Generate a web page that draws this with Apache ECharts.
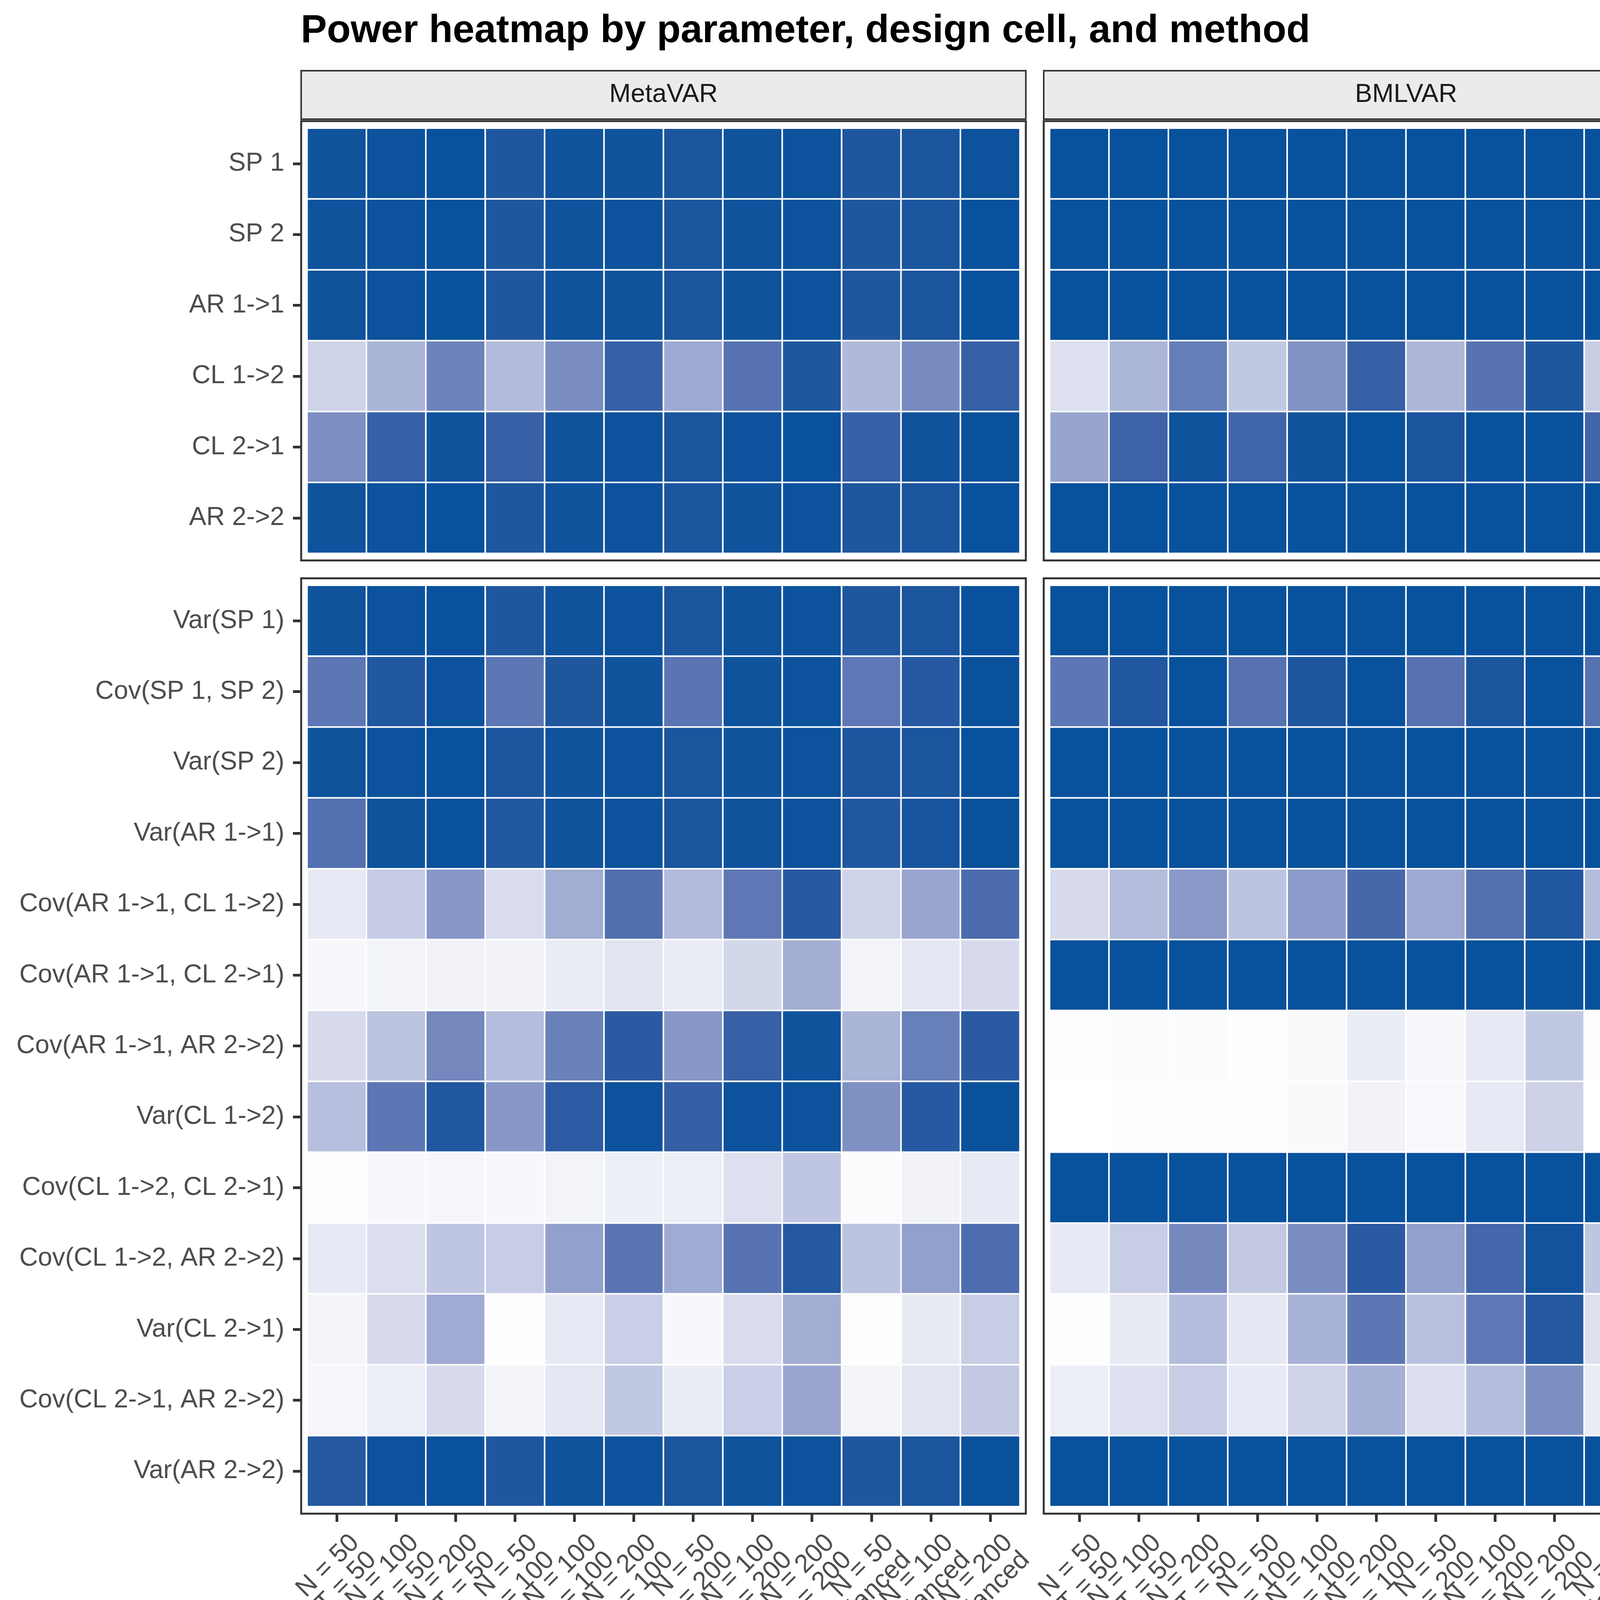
<!DOCTYPE html>
<html>
<head>
<meta charset="utf-8">
<script src="https://cdn.jsdelivr.net/npm/echarts@6/dist/echarts.min.js"></script>
<style>html,body{margin:0;padding:0;background:#fff}#c{width:6600px;height:4800px}</style>
</head>
<body>
<div id="c"></div>
<script>
// ---------------- DATA ----------------
const chartTitle = "Power heatmap by parameter, design cell, and method";
const methods = ["MetaVAR", "BMLVAR", "Uncorr"];
const effectTypes = ["Fixed effects", "Random effects"];
const designCells = [
  "N = 50\nT = 50", "N = 100\nT = 50", "N = 200\nT = 50",
  "N = 50\nT = 100", "N = 100\nT = 100", "N = 200\nT = 100",
  "N = 50\nT = 200", "N = 100\nT = 200", "N = 200\nT = 200",
  "N = 50\nT = Unbalanced", "N = 100\nT = Unbalanced", "N = 200\nT = Unbalanced"
];
const fixedParams = ["SP 1", "SP 2", "AR 1->1", "CL 1->2", "CL 2->1", "AR 2->2"];
const randomParams = [
  "Var(SP 1)", "Cov(SP 1, SP 2)", "Var(SP 2)", "Var(AR 1->1)",
  "Cov(AR 1->1, CL 1->2)", "Cov(AR 1->1, CL 2->1)", "Cov(AR 1->1, AR 2->2)",
  "Var(CL 1->2)", "Cov(CL 1->2, CL 2->1)", "Cov(CL 1->2, AR 2->2)",
  "Var(CL 2->1)", "Cov(CL 2->1, AR 2->2)", "Var(AR 2->2)"
];
const legendTitle = "power";
const legendTicks = [0.25, 0.50, 0.75, 1.00];
const legendTickLabels = ["0.25", "0.50", "0.75", "1.00"];
const powerMin = 0.0075, powerMax = 1.0;

// power values, rows = parameters (top to bottom), columns = design cells
const metaVarFixed = [
  [0.99, 0.995, 1.00, 0.965, 0.99, 0.99, 0.975, 0.99, 0.995, 0.965, 0.975, 0.995],
  [0.99, 0.995, 1.00, 0.965, 0.99, 0.995, 0.975, 0.99, 0.995, 0.965, 0.975, 1.00],
  [0.99, 0.995, 1.00, 0.965, 0.99, 0.99, 0.975, 0.99, 0.995, 0.965, 0.975, 1.00],
  [0.24, 0.41, 0.69, 0.37, 0.63, 0.90, 0.47, 0.79, 0.965, 0.38, 0.64, 0.90],
  [0.62, 0.90, 0.99, 0.90, 0.99, 0.995, 0.975, 0.995, 0.998, 0.90, 0.99, 0.997],
  [0.99, 0.995, 1.00, 0.965, 0.99, 0.995, 0.975, 0.99, 0.995, 0.965, 0.975, 1.00]
];
const metaVarRandom = [
  [0.99, 0.995, 1.00, 0.965, 0.99, 0.995, 0.975, 0.99, 0.995, 0.965, 0.975, 0.998],
  [0.76, 0.96, 0.995, 0.76, 0.965, 0.99, 0.77, 0.99, 0.995, 0.75, 0.95, 0.997],
  [0.99, 0.995, 1.00, 0.97, 0.99, 0.995, 0.975, 0.99, 0.995, 0.97, 0.975, 1.00],
  [0.80, 0.99, 0.997, 0.96, 0.99, 0.995, 0.975, 0.99, 0.995, 0.96, 0.98, 0.997],
  [0.12, 0.28, 0.57, 0.19, 0.45, 0.81, 0.37, 0.75, 0.95, 0.24, 0.49, 0.83],
  [0.04, 0.065, 0.07, 0.07, 0.10, 0.15, 0.11, 0.22, 0.44, 0.065, 0.13, 0.20],
  [0.20, 0.32, 0.66, 0.36, 0.70, 0.94, 0.57, 0.90, 0.99, 0.41, 0.71, 0.94],
  [0.35, 0.76, 0.96, 0.57, 0.93, 0.995, 0.91, 0.995, 0.995, 0.61, 0.95, 0.997],
  [0.015, 0.04, 0.045, 0.04, 0.065, 0.09, 0.09, 0.17, 0.31, 0.02, 0.07, 0.12],
  [0.12, 0.18, 0.31, 0.27, 0.52, 0.77, 0.46, 0.78, 0.955, 0.32, 0.52, 0.82],
  [0.06, 0.20, 0.46, 0.015, 0.12, 0.26, 0.04, 0.19, 0.45, 0.015, 0.115, 0.27],
  [0.045, 0.09, 0.20, 0.06, 0.13, 0.30, 0.10, 0.26, 0.49, 0.065, 0.15, 0.29],
  [0.955, 0.995, 0.997, 0.965, 0.99, 0.993, 0.975, 0.99, 0.995, 0.965, 0.975, 0.997]
];
const bmlvarFixed = [
  [1.00, 1.00, 1.00, 1.00, 1.00, 1.00, 1.00, 1.00, 1.00, 1.00, 1.00, 1.00],
  [1.00, 1.00, 1.00, 1.00, 1.00, 1.00, 1.00, 1.00, 1.00, 1.00, 1.00, 1.00],
  [1.00, 1.00, 1.00, 1.00, 1.00, 1.00, 1.00, 1.00, 1.00, 1.00, 1.00, 1.00],
  [0.17, 0.40, 0.72, 0.30, 0.60, 0.90, 0.39, 0.78, 0.965, 0.27, 0.60, 0.90],
  [0.50, 0.88, 0.99, 0.87, 0.99, 1.00, 0.975, 1.00, 1.00, 0.87, 0.998, 1.00],
  [1.00, 1.00, 1.00, 1.00, 1.00, 1.00, 1.00, 1.00, 1.00, 1.00, 1.00, 1.00]
];
const bmlvarRandom = [
  [1.00, 1.00, 1.00, 1.00, 1.00, 1.00, 1.00, 1.00, 1.00, 1.00, 1.00, 1.00],
  [0.76, 0.96, 1.00, 0.79, 0.97, 1.00, 0.79, 0.975, 1.00, 0.79, 0.965, 1.00],
  [1.00, 1.00, 1.00, 1.00, 1.00, 1.00, 1.00, 1.00, 1.00, 1.00, 1.00, 1.00],
  [1.00, 1.00, 1.00, 1.00, 1.00, 1.00, 1.00, 1.00, 1.00, 1.00, 1.00, 1.00],
  [0.20, 0.36, 0.56, 0.32, 0.55, 0.85, 0.47, 0.80, 0.96, 0.36, 0.60, 0.85],
  [1.00, 1.00, 1.00, 1.00, 1.00, 1.00, 1.00, 1.00, 1.00, 1.00, 1.00, 1.00],
  [0.012, 0.02, 0.022, 0.01, 0.03, 0.10, 0.04, 0.12, 0.30, 0.012, 0.055, 0.13],
  [0.008, 0.01, 0.018, 0.012, 0.03, 0.07, 0.035, 0.12, 0.245, 0.008, 0.035, 0.10],
  [1.00, 1.00, 1.00, 1.00, 1.00, 1.00, 1.00, 1.00, 1.00, 1.00, 1.00, 1.00],
  [0.12, 0.27, 0.65, 0.29, 0.63, 0.94, 0.52, 0.86, 0.985, 0.31, 0.69, 0.94],
  [0.012, 0.115, 0.36, 0.13, 0.42, 0.76, 0.34, 0.75, 0.955, 0.17, 0.42, 0.79],
  [0.09, 0.17, 0.27, 0.12, 0.24, 0.43, 0.18, 0.36, 0.62, 0.11, 0.245, 0.41],
  [1.00, 1.00, 1.00, 1.00, 1.00, 1.00, 1.00, 1.00, 1.00, 1.00, 1.00, 1.00]
];
const uncorrFixed = [
  [1.00, 1.00, 1.00, 1.00, 1.00, 1.00, 1.00, 1.00, 1.00, 1.00, 1.00, 1.00],
  [1.00, 1.00, 1.00, 1.00, 1.00, 1.00, 1.00, 1.00, 1.00, 1.00, 1.00, 1.00],
  [1.00, 1.00, 1.00, 1.00, 1.00, 1.00, 1.00, 1.00, 1.00, 1.00, 1.00, 1.00],
  [0.22, 0.41, 0.66, 0.37, 0.61, 0.89, 0.48, 0.79, 0.96, 0.32, 0.55, 0.82],
  [0.60, 0.90, 0.99, 0.92, 1.00, 1.00, 0.985, 1.00, 1.00, 0.83, 0.99, 1.00],
  [1.00, 1.00, 1.00, 1.00, 1.00, 1.00, 1.00, 1.00, 1.00, 1.00, 1.00, 1.00]
];
const uncorrRandom = [
  [1.00, 1.00, 1.00, 1.00, 1.00, 1.00, 1.00, 1.00, 1.00, 1.00, 1.00, 1.00],
  [0.79, 0.975, 1.00, 0.80, 0.975, 1.00, 0.79, 0.975, 1.00, 0.79, 0.97, 1.00],
  [1.00, 1.00, 1.00, 1.00, 1.00, 1.00, 1.00, 1.00, 1.00, 1.00, 1.00, 1.00],
  [1.00, 1.00, 1.00, 1.00, 1.00, 1.00, 1.00, 1.00, 1.00, 1.00, 1.00, 1.00],
  [0.83, 0.975, 1.00, 0.80, 0.975, 1.00, 0.78, 0.978, 1.00, 0.78, 0.975, 1.00],
  [0.41, 0.74, 0.95, 0.17, 0.32, 0.58, 0.04, 0.065, 0.11, 0.24, 0.42, 0.74],
  [0.06, 0.08, 0.11, 0.21, 0.43, 0.74, 0.45, 0.79, 0.97, 0.18, 0.33, 0.58],
  [1.00, 1.00, 1.00, 1.00, 1.00, 1.00, 1.00, 1.00, 1.00, 1.00, 1.00, 1.00],
  [0.17, 0.32, 0.57, 0.06, 0.11, 0.20, 0.04, 0.025, 0.04, 0.12, 0.20, 0.35],
  [0.11, 0.18, 0.35, 0.03, 0.04, 0.065, 0.18, 0.37, 0.61, 0.06, 0.06, 0.065],
  [1.00, 1.00, 1.00, 1.00, 1.00, 1.00, 1.00, 1.00, 1.00, 1.00, 1.00, 1.00],
  [0.61, 0.89, 0.995, 0.52, 0.85, 0.99, 0.49, 0.82, 0.975, 0.53, 0.85, 0.98],
  [1.00, 1.00, 1.00, 1.00, 1.00, 1.00, 1.00, 1.00, 1.00, 1.00, 1.00, 1.00]
];

// ---------------- COLOUR SCALE (white -> #08519C interpolated in Lab) ----------------
const lowColor = "#FFFFFF", highColor = "#08519C";
function hexToRgb(h) { h = h.replace('#', ''); return [0, 2, 4].map(i => parseInt(h.substr(i, 2), 16)); }
function s2l(c) { c /= 255; return c <= 0.04045 ? c / 12.92 : Math.pow((c + 0.055) / 1.055, 2.4); }
function l2s(c) { c = c <= 0.0031308 ? 12.92 * c : 1.055 * Math.pow(c, 1 / 2.4) - 0.055; return Math.round(Math.max(0, Math.min(1, c)) * 255); }
const Xn = 0.95047, Yn = 1.0, Zn = 1.08883;
function rgbToLab(rgb) {
  const R = s2l(rgb[0]), G = s2l(rgb[1]), B = s2l(rgb[2]);
  const X = 0.4124564 * R + 0.3575761 * G + 0.1804375 * B;
  const Y = 0.2126729 * R + 0.7151522 * G + 0.0721750 * B;
  const Z = 0.0193339 * R + 0.1191920 * G + 0.9503041 * B;
  const f = t => t > 0.008856 ? Math.cbrt(t) : (7.787 * t + 16 / 116);
  const fx = f(X / Xn), fy = f(Y / Yn), fz = f(Z / Zn);
  return [116 * fy - 16, 500 * (fx - fy), 200 * (fy - fz)];
}
function labToHex(lab) {
  const fy = (lab[0] + 16) / 116, fx = fy + lab[1] / 500, fz = fy - lab[2] / 200;
  const fi = t => (t * t * t > 0.008856) ? t * t * t : (t - 16 / 116) / 7.787;
  const X = Xn * fi(fx), Y = Yn * fi(fy), Z = Zn * fi(fz);
  const R = 3.2404542 * X - 1.5371385 * Y - 0.4985314 * Z;
  const G = -0.9692660 * X + 1.8760108 * Y + 0.0415560 * Z;
  const B = 0.0556434 * X - 0.2040259 * Y + 1.0572252 * Z;
  return '#' + [l2s(R), l2s(G), l2s(B)].map(v => v.toString(16).padStart(2, '0')).join('');
}
const labLow = rgbToLab(hexToRgb(lowColor)), labHigh = rgbToLab(hexToRgb(highColor));
function scaleColor(t) { return labToHex(labLow.map((v, i) => v + (labHigh[i] - v) * t)); }
const NSTOP = 40;
const rampColors = [];
for (let i = 0; i <= NSTOP; i++) rampColors.push(scaleColor(i / NSTOP));

// ---------------- LAYOUT ----------------
const FONT = '"Liberation Sans", Arial, Helvetica, sans-serif';
const unitW = 152.06, unitH = 181.4, gapPx = 45.8;
const plotLeft = 771, plotTop = 310;
const panelW = 12.2 * unitW;
const panelRowsN = [fixedParams.length, randomParams.length];
const panelH = panelRowsN.map(n => (n + 0.2) * unitH);
const panelTops = [plotTop, plotTop + panelH[0] + gapPx];
const panelLefts = [0, 1, 2].map(i => plotLeft + i * (panelW + gapPx));

const panelData = [[metaVarFixed, bmlvarFixed, uncorrFixed], [metaVarRandom, bmlvarRandom, uncorrRandom]];
const rowCats = [fixedParams, randomParams];

const grids = [], xAxes = [], yAxes = [], series = [];
for (let r = 0; r < 2; r++) {
  for (let c = 0; c < 3; c++) {
    const idx = r * 3 + c;
    grids.push({
      left: panelLefts[c] + 0.1 * unitW, top: panelTops[r] + 0.1 * unitH,
      width: 12 * unitW, height: panelRowsN[r] * unitH,
      containLabel: false, outerBoundsMode: 'none'
    });
    xAxes.push({
      type: 'category', gridIndex: idx, data: designCells, position: 'bottom',
      offset: 0.1 * unitH,
      axisLine: { show: false },
      axisTick: { show: r === 1, alignWithLabel: true, interval: 0, length: 21, lineStyle: { color: '#333333', width: 7 } },
      axisLabel: {
        show: r === 1, interval: 0, rotate: 45, align: 'right', verticalAlign: 'top',
        padding: [35, 0, 0, 0], margin: 18, lineHeight: 62,
        fontSize: 66, fontFamily: FONT, color: '#4D4D4D'
      },
      splitLine: { show: false }
    });
    yAxes.push({
      type: 'category', gridIndex: idx, data: rowCats[r], inverse: true, position: 'left',
      offset: 0.1 * unitW,
      axisLine: { show: false },
      axisTick: { show: c === 0, alignWithLabel: true, interval: 0, length: 21, lineStyle: { color: '#333333', width: 7 } },
      axisLabel: { show: c === 0, interval: 0, margin: 43, fontSize: 66, fontFamily: FONT, color: '#4D4D4D' },
      splitLine: { show: false }
    });
    const mat = panelData[r][c];
    const d = [];
    for (let i = 0; i < mat.length; i++) for (let j = 0; j < mat[i].length; j++) d.push([j, i, mat[i][j]]);
    series.push({
      type: 'heatmap', name: methods[c] + ' ' + effectTypes[r], xAxisIndex: idx, yAxisIndex: idx, data: d,
      itemStyle: { borderColor: '#FFFFFF', borderWidth: 4 },
      emphasis: { disabled: true }, progressive: 0, animation: false
    });
  }
}

// ---------------- GRAPHIC: strips, borders, title, legend ----------------
const gfx = [];
gfx.push({
  type: 'text', x: 770, y: 80, z: 20,
  style: { text: chartTitle, fill: '#000000', fontSize: 100, fontWeight: 'bold', fontFamily: FONT, align: 'left', verticalAlign: 'middle' }
});
for (let c = 0; c < 3; c++) {
  gfx.push({
    type: 'rect', z: 10, shape: { x: panelLefts[c], y: 181, width: panelW, height: 124 },
    style: { fill: '#EBEBEB', stroke: '#333333', lineWidth: 4 }
  });
  gfx.push({
    type: 'text', z: 11, x: panelLefts[c] + panelW / 2, y: 243,
    style: { text: methods[c], fill: '#1A1A1A', fontSize: 66, fontFamily: FONT, align: 'center', verticalAlign: 'middle' }
  });
}
for (let r = 0; r < 2; r++) {
  for (let c = 0; c < 3; c++) {
    gfx.push({
      type: 'rect', z: 10, shape: { x: panelLefts[c], y: panelTops[r], width: panelW, height: panelH[r] },
      style: { fill: 'none', stroke: '#333333', lineWidth: 5 }
    });
  }
  const sx = panelLefts[2] + panelW + 3;
  gfx.push({
    type: 'rect', z: 10, shape: { x: sx, y: panelTops[r], width: 125, height: panelH[r] },
    style: { fill: '#EBEBEB', stroke: '#333333', lineWidth: 4 }
  });
  gfx.push({
    type: 'text', z: 11, x: sx + 62.5, y: panelTops[r] + panelH[r] / 2, rotation: -Math.PI / 2,
    style: { text: effectTypes[r], fill: '#1A1A1A', fontSize: 66, fontFamily: FONT, align: 'center', verticalAlign: 'middle' }
  });
}
// colour bar legend
const barX = 3387, barY = 4468, barW = 714, barH = 144;
const gradStops = rampColors.map((col, i) => ({ offset: i / NSTOP, color: col }));
gfx.push({
  type: 'rect', z: 10, shape: { x: barX, y: barY, width: barW, height: barH },
  style: { fill: new echarts.graphic.LinearGradient(0, 0, 1, 0, gradStops) }
});
legendTicks.forEach((v, i) => {
  const tx = barX + (v - powerMin) / (powerMax - powerMin) * barW;
  gfx.push({ type: 'line', z: 11, shape: { x1: tx, y1: barY, x2: tx, y2: barY + barH / 5 }, style: { stroke: '#FFFFFF', lineWidth: 3 } });
  gfx.push({ type: 'line', z: 11, shape: { x1: tx, y1: barY + barH * 4 / 5, x2: tx, y2: barY + barH }, style: { stroke: '#FFFFFF', lineWidth: 3 } });
  gfx.push({
    type: 'text', z: 11, x: tx, y: 4681,
    style: { text: legendTickLabels[i], fill: '#000000', fontSize: 66, fontFamily: FONT, align: 'center', verticalAlign: 'middle' }
  });
});
gfx.push({
  type: 'text', z: 11, x: 3100, y: 4594,
  style: { text: legendTitle, fill: '#000000', fontSize: 83, fontWeight: 'bold', fontFamily: FONT, align: 'left', verticalAlign: 'middle' }
});

const chart = echarts.init(document.getElementById('c'), null, { renderer: 'canvas', width: 6600, height: 4800 });
chart.setOption({
  backgroundColor: '#FFFFFF',
  animation: false,
  textStyle: { fontFamily: FONT },
  grid: grids, xAxis: xAxes, yAxis: yAxes, series: series,
  visualMap: {
    type: 'continuous', show: false, min: powerMin, max: powerMax,
    seriesIndex: [0, 1, 2, 3, 4, 5], inRange: { color: rampColors }
  },
  graphic: gfx
});
</script>
</body>
</html>
